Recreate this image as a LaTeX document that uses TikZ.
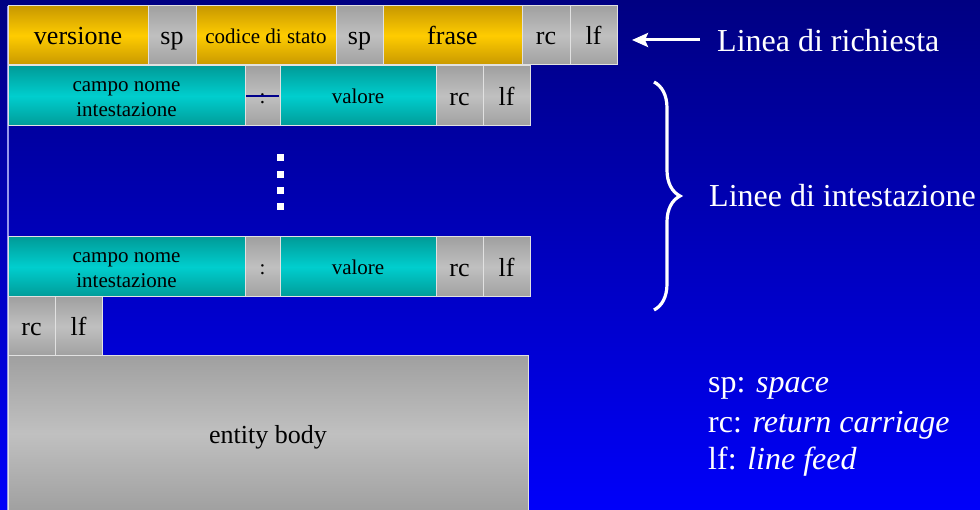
\documentclass[tikz,border=0pt]{standalone}
\usepackage{fontspec}
\setmainfont{Liberation Serif}[ItalicFont={Liberation Serif Italic}]
\usetikzlibrary{arrows.meta,decorations.pathreplacing}
\definecolor{bgT}{RGB}{0,0,130}
\definecolor{bgB}{RGB}{0,0,250}
\definecolor{goldD}{RGB}{200,152,0}
\definecolor{goldL}{RGB}{255,204,0}
\definecolor{grayD}{RGB}{160,160,160}
\definecolor{grayL}{RGB}{192,192,192}
\definecolor{tealD}{RGB}{0,155,152}
\definecolor{tealL}{RGB}{0,206,206}
\definecolor{borderc}{RGB}{225,225,225}
\definecolor{leftc}{RGB}{150,150,235}
\definecolor{navyc}{RGB}{0,0,140}
\tikzset{
  cell/.style={draw=borderc, line width=1pt, inner sep=0pt, outer sep=0pt,
    anchor=north west, text=black, align=center},
  big/.style={font=\fontsize{26}{30}\selectfont, text height=24pt, text depth=5pt},
  small/.style={font=\fontsize{21}{25}\selectfont, text height=20pt, text depth=4pt},
  twoline/.style={text height=46pt, text depth=4pt},
  goldbox/.style={cell, big, top color=goldD, bottom color=goldD, middle color=goldL},
  graybox/.style={cell, big, top color=grayD, bottom color=grayD, middle color=grayL},
  tealbox/.style={cell, small, top color=tealD, bottom color=tealD, middle color=tealL},
  label/.style={text=white, anchor=base west, inner sep=0pt, font=\fontsize{32}{38}\selectfont},
  dotsq/.style={fill=white, draw=none},
}
\begin{document}
\begin{tikzpicture}[x=1pt,y=-1pt]
\shade[top color=bgT, bottom color=bgB] (0,0) rectangle (980,510);
\useasboundingbox (0,0) rectangle (980,510);
\draw[leftc, line width=1.2pt] (8,6) -- (8,510);
% row 1
\node[goldbox, minimum width=140pt, minimum height=59pt] (versione) at (8,6) {versione};
\node[graybox, minimum width=48pt, minimum height=59pt] (sp1) at (148,6) {sp};
\node[goldbox, small, minimum width=140pt, minimum height=59pt] (codice) at (196,6) {codice di stato};
\node[graybox, minimum width=47pt, minimum height=59pt] (sp2) at (336,6) {sp};
\node[goldbox, minimum width=139pt, minimum height=59pt] (frase) at (383,6) {frase};
\node[graybox, minimum width=48pt, minimum height=59pt] (rc1) at (522,6) {rc};
\node[graybox, minimum width=47pt, minimum height=59pt] (lf1) at (570,6) {lf};
% row 2
\node[tealbox, twoline, minimum width=237pt, minimum height=60pt] (campo1) at (8,66) {campo nome\\ intestazione};
\node[graybox, small, minimum width=35pt, minimum height=60pt] (colon1) at (245,66) {:};
\draw[navyc, line width=1.2pt] ([xshift=1pt]colon1.west) -- ([xshift=-1pt]colon1.east);
\node[tealbox, minimum width=156pt, minimum height=60pt] (valore1) at (280,66) {valore};
\node[graybox, minimum width=47pt, minimum height=60pt] (rc2) at (436,66) {rc};
\node[graybox, minimum width=47pt, minimum height=60pt] (lf2) at (483,66) {lf};
% dots
\foreach \yy [count=\i] in {154,171,187,203}
  \fill[dotsq] (277,\yy) rectangle +(7,7);
% row 3
\node[tealbox, twoline, minimum width=237pt, minimum height=60pt] (campo2) at (8,237) {campo nome\\ intestazione};
\node[graybox, small, minimum width=35pt, minimum height=60pt] (colon2) at (245,237) {:};
\node[tealbox, minimum width=156pt, minimum height=60pt] (valore2) at (280,237) {valore};
\node[graybox, minimum width=47pt, minimum height=60pt] (rc3) at (436,237) {rc};
\node[graybox, minimum width=47pt, minimum height=60pt] (lf3) at (483,237) {lf};
% row 4
\node[graybox, minimum width=47pt, minimum height=59pt] (rc4) at (8,297) {rc};
\node[graybox, minimum width=47pt, minimum height=59pt] (lf4) at (55,297) {lf};
% body
\node[graybox, minimum width=520pt, minimum height=155pt] (body) at (8,356) {entity body};
% labels
\node[label] (richiesta) at (717,52) {Linea di richiesta};
\coordinate (arrS) at (700,40);
\coordinate (arrE) at (632,40);
\draw[white, line width=3pt, -{Stealth[length=16pt,width=14pt,inset=3pt]}] (arrS) -- (arrE);
\coordinate (brTop) at (654,82);
\coordinate (brBot) at (654,310);
\draw[white, line width=3.2pt, decorate, decoration={brace, amplitude=26pt, aspect=0.5}] (brTop) -- (brBot);
\node[label] (intest) at (709,207) {Linee di intestazione};
\node[label] (lsp) at (708,393) {sp: \textit{space}};
\node[label] (lrc) at (708,432) {rc: \textit{return carriage}};
\node[label] (llf) at (708,469) {lf: \textit{line feed}};
\end{tikzpicture}
\end{document}
